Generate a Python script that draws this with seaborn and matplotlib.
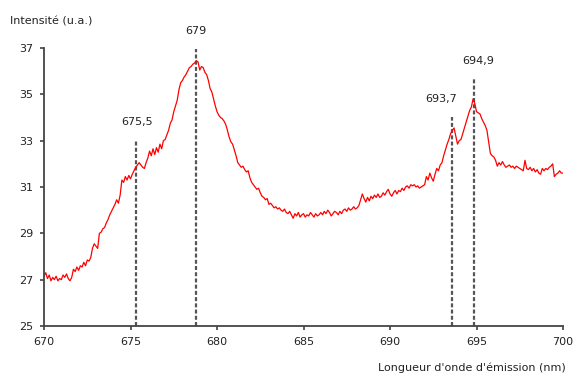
import numpy as np
import pandas as pd
import matplotlib
matplotlib.use("Agg")
import matplotlib.pyplot as plt
import seaborn as sns

# emission spectrum, 0.1 nm steps from 670 to 700 nm
wavelength_start = 670.0
wavelength_step = 0.1
intensity = [
    27.15, 27.30, 27.05, 27.20, 26.95, 27.10, 27.00, 27.15, 26.95, 27.05,  # 670
    27.00, 27.20, 27.10, 27.25, 27.05, 26.95, 27.10, 27.45, 27.35, 27.55,  # 671
    27.40, 27.60, 27.55, 27.75, 27.60, 27.85, 27.80, 27.95, 28.35, 28.55,  # 672
    28.45, 28.35, 29.00, 29.05, 29.20, 29.25, 29.45, 29.60, 29.80, 29.95,  # 673
    30.10, 30.25, 30.45, 30.30, 30.65, 31.30, 31.20, 31.45, 31.30, 31.50,  # 674
    31.35, 31.55, 31.70, 31.85, 31.95, 32.05, 31.95, 31.85, 31.80, 32.05,  # 675
    32.25, 32.55, 32.35, 32.65, 32.40, 32.70, 32.50, 32.85, 32.65, 33.00,  # 676
    33.05, 33.25, 33.45, 33.75, 33.90, 34.25, 34.50, 34.75, 35.20, 35.50,  # 677
    35.60, 35.75, 35.85, 36.00, 36.15, 36.20, 36.30, 36.35, 36.45, 36.40,  # 678
    36.05, 36.20, 36.15, 35.95, 35.85, 35.60, 35.25, 35.10, 34.80, 34.50,  # 679
    34.25, 34.10, 34.00, 33.95, 33.85, 33.70, 33.45, 33.15, 32.95, 32.85,  # 680
    32.60, 32.35, 32.05, 31.95, 31.85, 31.90, 31.75, 31.65, 31.70, 31.40,  # 681
    31.20, 31.10, 31.00, 30.90, 30.95, 30.75, 30.60, 30.55, 30.45, 30.50,  # 682
    30.25, 30.30, 30.20, 30.10, 30.15, 30.05, 30.10, 30.00, 29.95, 30.05,  # 683
    29.90, 29.85, 29.95, 29.80, 29.65, 29.85, 29.75, 29.90, 29.70, 29.80,  # 684
    29.85, 29.70, 29.80, 29.75, 29.90, 29.80, 29.70, 29.85, 29.75, 29.80,  # 685
    29.90, 29.80, 29.95, 29.85, 30.00, 29.90, 29.75, 29.85, 29.95, 29.90,  # 686
    29.80, 29.95, 29.85, 30.00, 30.05, 29.95, 30.10, 30.00, 30.05, 30.15,  # 687
    30.05, 30.10, 30.20, 30.45, 30.70, 30.50, 30.35, 30.55, 30.40, 30.60,  # 688
    30.50, 30.65, 30.55, 30.70, 30.55, 30.60, 30.75, 30.65, 30.80, 30.90,  # 689
    30.70, 30.60, 30.75, 30.85, 30.70, 30.85, 30.80, 30.95, 30.85, 31.00,  # 690
    31.05, 30.95, 31.10, 31.05, 31.10, 31.00, 31.05, 30.95, 31.00, 31.05,  # 691
    31.10, 31.45, 31.30, 31.60, 31.40, 31.25, 31.55, 31.80, 31.70, 31.95,  # 692
    32.05, 32.35, 32.60, 32.85, 33.05, 33.30, 33.45, 33.55, 33.20, 32.85,  # 693
    33.00, 33.05, 33.30, 33.55, 33.80, 34.05, 34.30, 34.45, 34.80, 34.60,  # 694
    34.25, 34.20, 34.15, 33.95, 33.80, 33.65, 33.45, 32.95, 32.45, 32.35,  # 695
    32.30, 32.15, 31.90, 32.05, 31.95, 32.10, 31.95, 31.85, 31.90, 31.95,  # 696
    31.85, 31.90, 31.80, 31.90, 31.85, 31.80, 31.75, 31.70, 32.15, 31.80,  # 697
    31.75, 31.85, 31.70, 31.80, 31.65, 31.75, 31.60, 31.55, 31.80, 31.70,  # 698
    31.80, 31.75, 31.85, 31.90, 32.00, 31.45, 31.55, 31.60, 31.70, 31.60,  # 699
    31.60,                                                                 # 700
]

# marked peaks
peak_pos = [675.3, 678.8, 693.6, 694.85]
peak_top = [33.05, 36.95, 34.0, 35.65]
peak_labels = ["675,5", "679", "693,7", "694,9"]
label_x = [675.4, 678.75, 692.95, 695.1]
label_y = [33.8, 37.75, 34.8, 36.45]

x_ticks = [670, 675, 680, 685, 690, 695, 700]
y_ticks = [25, 27, 29, 31, 33, 35, 37]

wavelength = wavelength_start + wavelength_step * np.arange(len(intensity))
df = pd.DataFrame({"wl": wavelength, "I": intensity})

sns.set_style("ticks")
plt.rcParams["font.family"] = ["DejaVu Sans"]

fig = plt.figure(figsize=(5.74, 3.74), dpi=100)
ax = fig.add_axes([0.0767, 0.1283, 0.9042, 0.7434])

# dashed peak markers
for xp, yt in zip(peak_pos, peak_top):
    ax.plot([xp, xp], [25, yt], color="#555555", lw=1.6,
            linestyle=(0, (1.8, 1.0)), zorder=1)

sns.lineplot(data=df, x="wl", y="I", color="#ff0000", lw=0.9, ax=ax, zorder=2)

for lx, ly, t in zip(label_x, label_y, peak_labels):
    ax.text(lx, ly, t, ha="center", va="center", fontsize=8, color="#222222")

ax.set_xlim(670, 700)
ax.set_ylim(25, 37)
ax.set_xticks(x_ticks)
ax.set_yticks(y_ticks)
ax.set_xlabel("")
ax.set_ylabel("")
ax.tick_params(axis="both", labelsize=8, colors="#333333", labelcolor="#222222",
               length=3, width=1.1, pad=5, direction="out")
sns.despine(ax=ax)
for s in ["left", "bottom"]:
    ax.spines[s].set_color("#444444")
    ax.spines[s].set_linewidth(1.3)

fig.text(10 / 574, 1 - 22 / 374, "Intensité (u.a.)", ha="left", va="center",
         fontsize=8, color="#222222")
fig.text(566 / 574, 1 - 368 / 374, "Longueur d'onde d'émission (nm)", ha="right",
         va="center", fontsize=8, color="#222222")

fig.savefig("out.png", dpi=100)
